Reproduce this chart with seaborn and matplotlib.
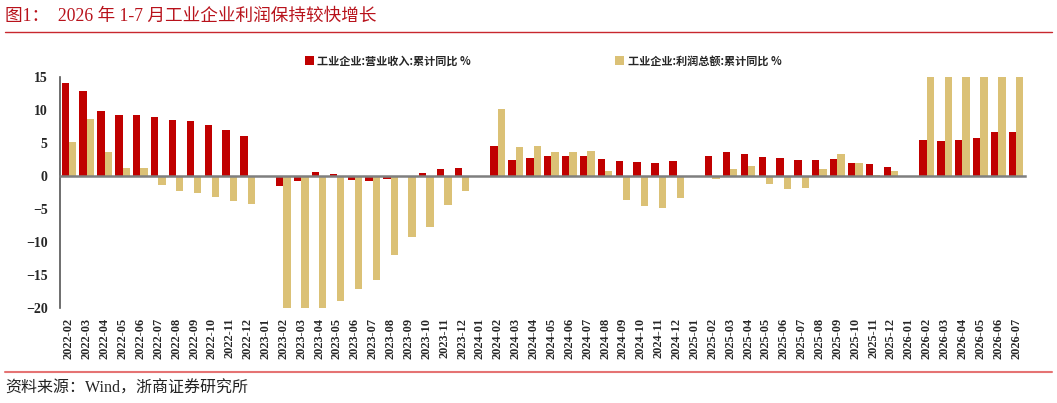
import numpy as np
import pandas as pd
import seaborn as sns
import matplotlib.pyplot as plt
from matplotlib.lines import Line2D
from matplotlib.patches import Patch

nan = np.nan

# monthly categories 2022-02 .. 2026-07
months = list(pd.period_range('2022-02', '2026-07', freq='M').strftime('%Y-%m'))

# 工业企业:营业收入:累计同比 %
revenue = [14.1, 12.9, 9.85, 9.3, 9.3, 8.9, 8.5, 8.4, 7.8, 6.9, 6.1,
           nan, -1.5, -0.7, 0.6, 0.25, -0.55, -0.7, -0.5, 0.0, 0.45, 1.1, 1.2,
           nan, 4.6, 2.5, 2.8, 3.1, 3.1, 3.1, 2.6, 2.3, 2.1, 2.0, 2.3,
           nan, 3.0, 3.6, 3.4, 2.9, 2.7, 2.5, 2.5, 2.6, 2.0, 1.8, 1.3,
           nan, 5.5, 5.25, 5.4, 5.7, 6.7, 6.7]

# 工业企业:利润总额:累计同比 %  (some values run past the axis range)
profit = [5.15, 8.7, 3.7, 1.2, 1.2, -1.3, -2.3, -2.5, -3.2, -3.8, -4.2,
          nan, -22.9, -21.4, -20.6, -19.0, -17.1, -15.8, -11.9, -9.2, -7.8, -4.4, -2.3,
          nan, 10.2, 4.4, 4.5, 3.6, 3.7, 3.8, 0.7, -3.6, -4.5, -4.9, -3.4,
          nan, -0.4, 1.0, 1.5, -1.2, -1.9, -1.8, 1.0, 3.3, 2.0, 0.2, 0.7,
          nan, 26.0, 29.0, 28.0, 27.0, 27.0, 26.0]

series_names = ['工业企业:营业收入:累计同比 %', '工业企业:利润总额:累计同比 %']
colors = ['#C00000', '#DBC176']

df = pd.DataFrame({
    'month': months * 2,
    'value': revenue + profit,
    'series': [series_names[0]] * len(months) + [series_names[1]] * len(months),
})

serif_bold = dict(family='Liberation Serif', weight='bold')
cjk = ['Liberation Serif', 'Noto Sans CJK SC', 'DejaVu Sans']

sns.set_style('white')
plt.rcParams['font.family'] = cjk

fig = plt.figure(figsize=(10.57, 4.03), dpi=100)
ax = fig.add_axes([60 / 1057, 1 - 308 / 403, 965 / 1057, 231 / 403])

sns.barplot(data=df, x='month', y='value', hue='series', order=months,
            hue_order=series_names, palette=colors, width=0.82, errorbar=None,
            saturation=1, legend=False, linewidth=0, ax=ax)

ax.set_ylim(-20, 15)
ax.set_xlim(-0.5, len(months) - 0.5)
ax.set_yticks(range(-20, 16, 5))
ax.set_xlabel('')
ax.set_ylabel('')

for s in ['top', 'right']:
    ax.spines[s].set_visible(False)
ax.spines['left'].set_color('#555555')
ax.spines['left'].set_linewidth(1.2)
ax.tick_params(axis='y', direction='out', length=3, width=1, color='#555555', pad=6)
for lbl in ax.get_yticklabels():
    lbl.set_fontproperties(serif_bold)
    lbl.set_fontsize(10)

# zero line (bottom spine moved to y=0) with ticks between the months
ax.spines['bottom'].set_position(('data', 0))
ax.spines['bottom'].set_color('#7F7F7F')
ax.spines['bottom'].set_linewidth(1.8)
ax.spines['bottom'].set_zorder(5)
ax.set_xticks(np.arange(-0.5, len(months), 1.0))
ax.set_xticklabels([])
ax.tick_params(axis='x', direction='out', length=3, width=1, color='#555555')

# month labels along the bottom edge
lax = ax.secondary_xaxis('bottom')
lax.set_xticks(range(len(months)))
lax.set_xticklabels(months, rotation=90, fontsize=8.8, **serif_bold)
lax.tick_params(length=0, pad=7)
lax.spines['bottom'].set_visible(False)

handles = [Patch(facecolor=c, edgecolor='none') for c in colors]
fig.legend(handles, series_names, loc='center left',
           bbox_to_anchor=(295 / 1057, 1 - 61 / 403), ncol=2, frameon=False,
           handlelength=0.8, handleheight=0.8, handletextpad=0.3,
           columnspacing=13.0, prop={'family': ['Noto Sans CJK SC'], 'size': 8, 'weight': 'bold'})

fig.text(5 / 1057, 1 - 16 / 403, '图1：  2026 年 1-7 月工业企业利润保持较快增长',
         color='#B8121B', fontsize=12.7, va='center', ha='left')
fig.add_artist(Line2D([5 / 1057, 1052 / 1057], [1 - 32 / 403] * 2,
                      transform=fig.transFigure, color='#C8282E', linewidth=1))
fig.add_artist(Line2D([5 / 1057, 1052 / 1057], [1 - 372 / 403] * 2,
                      transform=fig.transFigure, color='#E57373', linewidth=1.5))
fig.text(5 / 1057, 1 - 389 / 403, '资料来源：Wind，浙商证券研究所',
         color='#222222', fontsize=11.5, va='center', ha='left')

fig.savefig('out.png', dpi=100)
